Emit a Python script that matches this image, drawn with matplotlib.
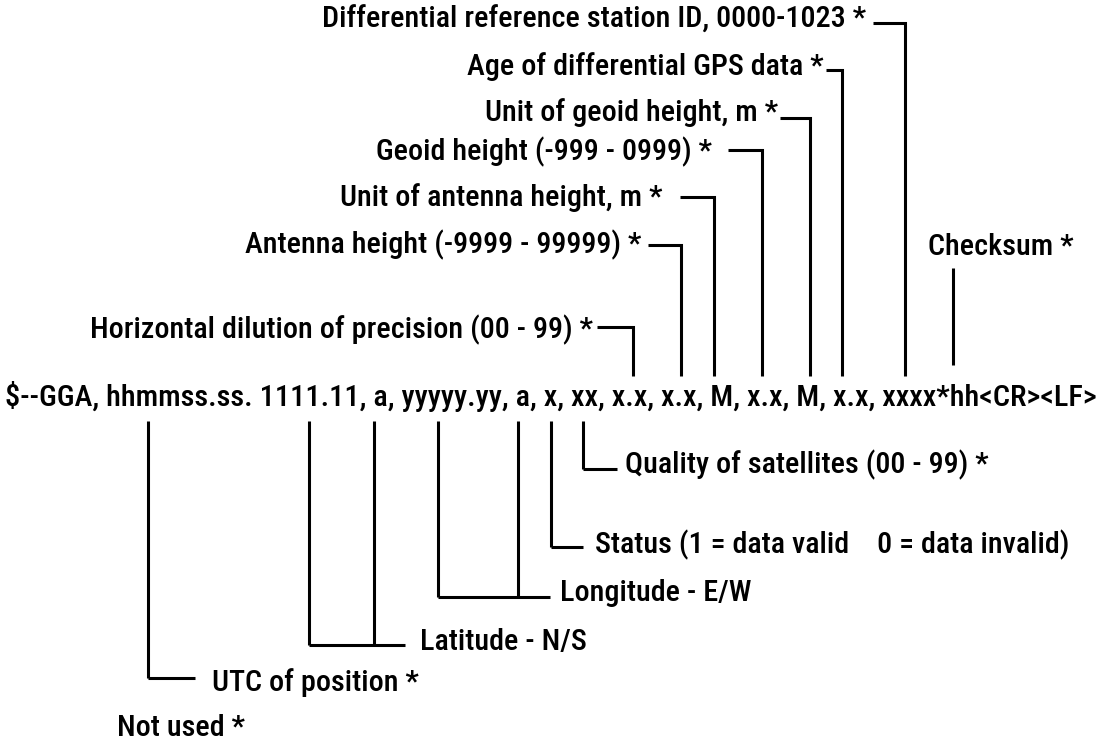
import matplotlib
matplotlib.use("Agg")
import matplotlib.pyplot as plt
from matplotlib import font_manager
from matplotlib.font_manager import FontProperties

# look for a narrow / condensed sans, the original uses a condensed Helvetica
prefs = ["liberation sans narrow", "arial narrow", "nimbus sans narrow",
         "roboto condensed", "open sans condensed", "noto sans condensed",
         "dejavu sans condensed", "liberation sans", "dejavu sans"]


def rank(f):
    name = f.name.lower()
    narrow = ('narrow' in name or 'condensed' in name or
              str(f.stretch) in ('condensed', 'semi-condensed', 'extra-condensed'))
    base = 99
    for i, p in enumerate(prefs):
        if name.startswith(p.split(' ')[0] + ' ' + p.split(' ')[1]):
            base = i
            break
    w = f.weight if isinstance(f.weight, int) else (700 if 'bold' in str(f.weight) else 400)
    return (0 if narrow else 1, base, abs(w - 580), 0 if f.style == 'normal' else 1)


cands = [f for f in font_manager.fontManager.ttflist
         if f.fname.lower().endswith(('.ttf', '.otf'))]
cands.sort(key=rank)
FONT_FILE = cands[0].fname if cands else None

sentence = "$--GGA, hhmmss.ss. 1111.11, a, yyyyy.yy, a, x, xx, x.x, x.x, M, x.x, M, x.x, xxxx*hh<CR><LF>"

# labels above the sentence (top to bottom)
top_labels = [
    "Differential reference station ID, 0000-1023 *",
    "Age of differential GPS data *",
    "Unit of geoid height, m *",
    "Geoid height (-999 - 0999) *",
    "Unit of antenna height, m *",
    "Antenna height (-9999 - 99999) *",
    "Horizontal dilution of precision (00 - 99) *",
]
checksum_label = "Checksum *"

# labels below the sentence (top to bottom)
bottom_labels = [
    "Quality of satellites (00 - 99) *",
    "Status (1 = data valid    0 = data invalid)",
    "Longitude - E/W",
    "Latitude - N/S",
    "UTC of position *",
]
not_used_label = "Not used *"

# layout (pixels, y downwards)
top_field_x = [905, 842, 810, 762, 714, 681, 633]
top_hook_y = [23, 70, 118, 150, 197, 245, 327]
top_text_y = [20, 67, 113, 152, 198, 245, 330]
top_hook_x0 = [873, 826, 780, 728, 680, 648, 597]
top_text_end = [866, 824, 778, 712, 662, 641, 593]

bot_field_x = [[583], [551], [438, 518], [309, 374], [148]]
bot_hook_y = [469, 547, 597, 645, 678]
bot_text_y = [465, 545, 593, 642, 683]
bot_hook_x1 = [617, 583, 550, 405, 195]
bot_text_x = [625, 595, 560, 420, 212]

W, H = 1102, 745
fig = plt.figure(figsize=(W / 100, H / 100), dpi=100)
ax = fig.add_axes([0, 0, 1, 1])
ax.set_xlim(0, W)
ax.set_ylim(H, 0)
ax.axis('off')
renderer = fig.canvas.get_renderer()


def fprop(size):
    if FONT_FILE:
        return FontProperties(fname=FONT_FILE, size=size)
    return FontProperties(family='DejaVu Sans', weight='bold', size=size)


def fit_size(s, width):
    t = ax.text(0, 0, s, fontproperties=fprop(10))
    w = t.get_window_extent(renderer).width
    t.remove()
    return 10 * width / w


LW = 2.2
sent_y = 397
line_top_end = 376
line_bot_start = 421

main_fp = fprop(fit_size(sentence, 1092))
ax.text(5, sent_y, sentence, fontproperties=main_fp, ha='left', va='center')

lab_fp = fprop(fit_size(top_labels[0], 543))

for lab, fx, hy, ty, x0, tx in zip(top_labels, top_field_x, top_hook_y, top_text_y,
                                   top_hook_x0, top_text_end):
    ax.plot([x0, fx, fx], [hy, hy, line_top_end], color='black', lw=LW,
            solid_joinstyle='miter', solid_capstyle='butt')
    ax.text(tx, ty, lab, fontproperties=lab_fp, ha='right', va='center')

# checksum
ax.plot([953, 953], [268, 365], color='black', lw=LW, solid_capstyle='butt')
ax.text(928, 247, checksum_label, fontproperties=lab_fp, ha='left', va='center')

for lab, fxs, hy, ty, x1, tx in zip(bottom_labels, bot_field_x, bot_hook_y, bot_text_y,
                                    bot_hook_x1, bot_text_x):
    for fx in fxs:
        ax.plot([fx, fx], [line_bot_start, hy], color='black', lw=LW, solid_capstyle='butt')
    ax.plot([fxs[0], x1], [hy, hy], color='black', lw=LW, solid_capstyle='butt')
    ax.text(tx, ty, lab, fontproperties=lab_fp, ha='left', va='center')

ax.text(117, 728, not_used_label, fontproperties=lab_fp, ha='left', va='center')

fig.savefig("out.png", dpi=100, facecolor='white')
